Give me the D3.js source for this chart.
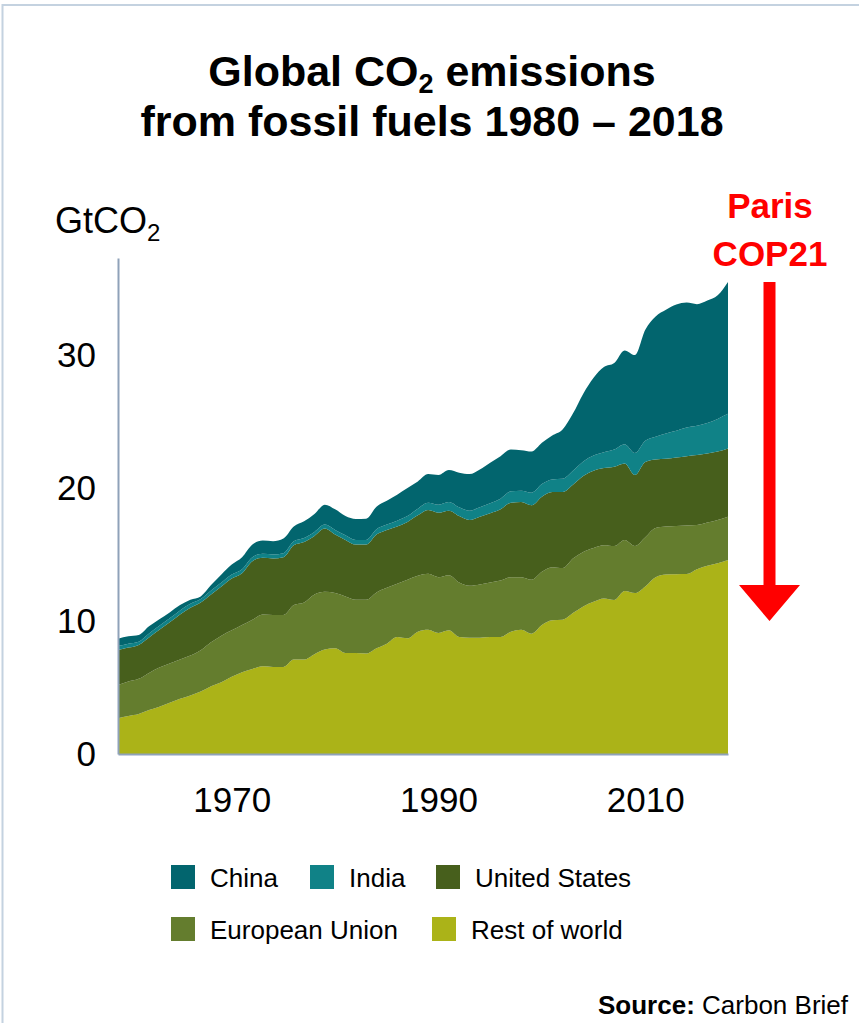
<!DOCTYPE html>
<html>
<head>
<meta charset="utf-8">
<script src="https://cdn.jsdelivr.net/npm/d3@7"></script>
<style>
  html, body { margin: 0; padding: 0; background: #fff; }
  svg { display: block; font-family: "Liberation Sans", Arial, sans-serif; }
</style>
</head>
<body>
<svg id="chart" width="859" height="1023"></svg>
<script>
// Annual fossil CO2 emissions, GtCO2, 1959–2018
const years = [
  1959,1960,1961,1962,1963,1964,1965,1966,1967,1968,
  1969,1970,1971,1972,1973,1974,1975,1976,1977,1978,
  1979,1980,1981,1982,1983,1984,1985,1986,1987,1988,
  1989,1990,1991,1992,1993,1994,1995,1996,1997,1998,
  1999,2000,2001,2002,2003,2004,2005,2006,2007,2008,
  2009,2010,2011,2012,2013,2014,2015,2016,2017,2018
];
const restOfWorld = [
  2.68,2.85,3.0,3.3,3.55,3.85,4.15,4.4,4.7,5.1,
  5.4,5.8,6.15,6.4,6.6,6.55,6.55,7.1,7.1,7.5,
  7.85,7.95,7.6,7.6,7.55,7.95,8.3,8.8,8.7,9.2,
  9.35,9.1,9.3,8.8,8.75,8.75,8.8,8.8,9.2,9.35,
  9.05,9.7,10.05,10.1,10.6,11.1,11.45,11.7,11.58,12.25,
  12.1,12.6,13.3,13.5,13.52,13.53,13.9,14.15,14.35,14.59
];
const europeanUnion = [
  2.51,2.6,2.65,2.8,2.95,2.95,2.95,3.0,3.1,3.3,
  3.5,3.5,3.55,3.7,3.9,3.9,3.9,4.1,4.3,4.5,
  4.35,4.15,4.25,4.0,4.05,4.2,4.2,4.0,4.4,4.2,
  4.2,4.2,4.15,4.1,3.9,4.0,4.1,4.25,4.1,3.95,
  4.05,4.0,4.0,3.88,4.1,4.1,4.05,4.0,4.06,3.85,
  3.55,3.7,3.7,3.6,3.63,3.65,3.32,3.25,3.25,3.25
];
const unitedStates = [
  2.63,2.55,2.55,2.67,2.84,3.1,3.4,3.6,3.6,3.6,
  3.7,3.9,3.9,4.4,4.25,4.25,4.35,4.5,4.55,4.4,
  4.75,4.4,4.25,4.15,4.15,4.35,4.35,4.3,4.35,4.55,
  4.8,4.85,4.85,5.0,4.95,5.1,5.2,5.35,5.6,5.65,
  5.6,5.65,5.65,5.72,5.55,5.7,5.8,5.8,5.96,5.75,
  5.33,5.65,5.15,5.1,5.15,5.22,5.26,5.2,5.15,5.14
];
const india = [
  0.3,0.3,0.25,0.3,0.3,0.3,0.3,0.3,0.25,0.3,
  0.3,0.3,0.3,0.3,0.3,0.3,0.3,0.3,0.3,0.3,
  0.3,0.35,0.35,0.35,0.35,0.4,0.4,0.45,0.45,0.5,
  0.55,0.6,0.65,0.65,0.7,0.7,0.75,0.8,0.85,0.85,
  0.95,0.95,0.95,1.0,1.05,1.1,1.15,1.2,1.3,1.45,
  1.65,1.6,1.7,1.9,2.0,2.15,2.2,2.3,2.45,2.6
];
const china = [
  0.55,0.55,0.5,0.53,0.5,0.45,0.4,0.3,0.2,0.4,
  0.6,0.75,0.9,0.95,1.0,1.0,1.1,1.1,1.25,1.35,
  1.5,1.55,1.45,1.58,1.6,1.7,1.8,1.95,2.1,2.05,
  2.15,2.23,2.4,2.6,2.75,2.85,3.05,3.2,3.15,3.05,
  3.1,3.1,3.3,3.7,4.3,5.1,5.85,6.4,6.5,7.05,
  7.37,8.35,9.05,9.3,9.5,9.4,9.15,9.2,9.3,9.92
];

// Stack order, bottom to top
const seriesKeys = ["Rest of world", "European Union", "United States", "India", "China"];
const seriesValues = [restOfWorld, europeanUnion, unitedStates, india, china];
const seriesColors = {
  "China": "#02656e",
  "India": "#108287",
  "United States": "#475f1c",
  "European Union": "#647d2e",
  "Rest of world": "#abb318"
};
// Legend rows as laid out under the chart
const legendRows = [["China", "India", "United States"], ["European Union", "Rest of world"]];
const yTicks = [0, 10, 20, 30];
const xTicks = [1970, 1990, 2010];

const table = years.map((yr, i) => {
  const row = { year: yr };
  seriesKeys.forEach((k, j) => { row[k] = seriesValues[j][i]; });
  return row;
});

const svg = d3.select("#chart");
const W = 859, H = 1023;

svg.append("rect").attr("width", W).attr("height", H).attr("fill", "#fff");

// Thin frame along the top and left edges
svg.append("line").attr("x1", 2).attr("x2", W).attr("y1", 5).attr("y2", 5)
  .attr("stroke", "#c4d2e0").attr("stroke-width", 2);
svg.append("line").attr("x1", 2.5).attr("x2", 2.5).attr("y1", 4).attr("y2", H)
  .attr("stroke", "#c4d2e0").attr("stroke-width", 2);

// Title, two lines
const title1 = svg.append("text").attr("x", 432).attr("y", 86).attr("text-anchor", "middle")
  .attr("font-weight", "bold").attr("font-size", 43).attr("fill", "#000");
title1.append("tspan").text("Global CO");
title1.append("tspan").attr("font-size", 27).attr("dy", 7).text("2");
title1.append("tspan").attr("dy", -7).text(" emissions");
svg.append("text").attr("x", 432).attr("y", 135.5).attr("text-anchor", "middle")
  .attr("font-weight", "bold").attr("font-size", 43).attr("fill", "#000")
  .text("from fossil fuels 1980 \u2013 2018");

// Scales
const x = d3.scaleLinear().domain([1959, 2018]).range([118, 728]);
const y = d3.scaleLinear().domain([0, 37.3]).range([754, 258]);

// Stacked areas
const stacked = d3.stack().keys(seriesKeys)(table);
const area = d3.area()
  .x(d => x(d.data.year))
  .y0(d => y(d[0]))
  .y1(d => y(d[1]))
  .curve(d3.curveMonotoneX);

svg.append("g").selectAll("path")
  .data(stacked)
  .join("path")
  .attr("d", area)
  .attr("fill", d => seriesColors[d.key]);

// Axes
const axisColor = "#8fa2b9";
const yAxis = svg.append("g").attr("transform", `translate(${x.range()[0]},0)`)
  .call(d3.axisLeft(y).tickValues(yTicks).tickSize(0).tickSizeOuter(0).tickPadding(22).tickFormat(d3.format("d")));
const xAxis = svg.append("g").attr("transform", `translate(0,${y(0)})`)
  .call(d3.axisBottom(x).tickValues(xTicks).tickSize(0).tickSizeOuter(0).tickPadding(33).tickFormat(d3.format("d")));
[yAxis, xAxis].forEach(g => {
  g.select(".domain").attr("stroke", axisColor).attr("stroke-width", 2);
  g.selectAll("text").attr("font-size", 35).attr("fill", "#000")
    .attr("font-family", "\"Liberation Sans\", Arial, sans-serif");
});

// Unit label
const unit = svg.append("text").attr("x", 55).attr("y", 233)
  .attr("font-size", 36).attr("fill", "#000");
unit.append("tspan").text("GtCO");
unit.append("tspan").attr("font-size", 24).attr("dy", 8).text("2");

// Paris COP21 annotation
const red = "#ff0000";
svg.append("text").attr("x", 770).attr("y", 218).attr("text-anchor", "middle")
  .attr("font-weight", "bold").attr("font-size", 35).attr("fill", red).text("Paris");
svg.append("text").attr("x", 770).attr("y", 266).attr("text-anchor", "middle")
  .attr("font-weight", "bold").attr("font-size", 35).attr("fill", red).text("COP21");
svg.append("path")
  .attr("d", "M763.5,282 H775.5 V585 H800 L769.5,621 L739,585 H763.5 Z")
  .attr("fill", red);

// Legend
const legendLayout = [
  { y: 865, xs: [171, 310, 436] },
  { y: 917, xs: [171, 432] }
];
legendRows.forEach((row, r) => {
  row.forEach((name, c) => {
    const lx = legendLayout[r].xs[c], ly = legendLayout[r].y;
    svg.append("rect").attr("x", lx).attr("y", ly).attr("width", 24).attr("height", 24)
      .attr("fill", seriesColors[name]);
    svg.append("text").attr("x", lx + 39).attr("y", ly + 22)
      .attr("font-size", 26).attr("fill", "#000").text(name);
  });
});

// Source line
const src = svg.append("text").attr("x", 848).attr("y", 1014).attr("text-anchor", "end")
  .attr("font-size", 26).attr("fill", "#000");
src.append("tspan").attr("font-weight", "bold").text("Source:");
src.append("tspan").text(" Carbon Brief");
</script>
</body>
</html>
